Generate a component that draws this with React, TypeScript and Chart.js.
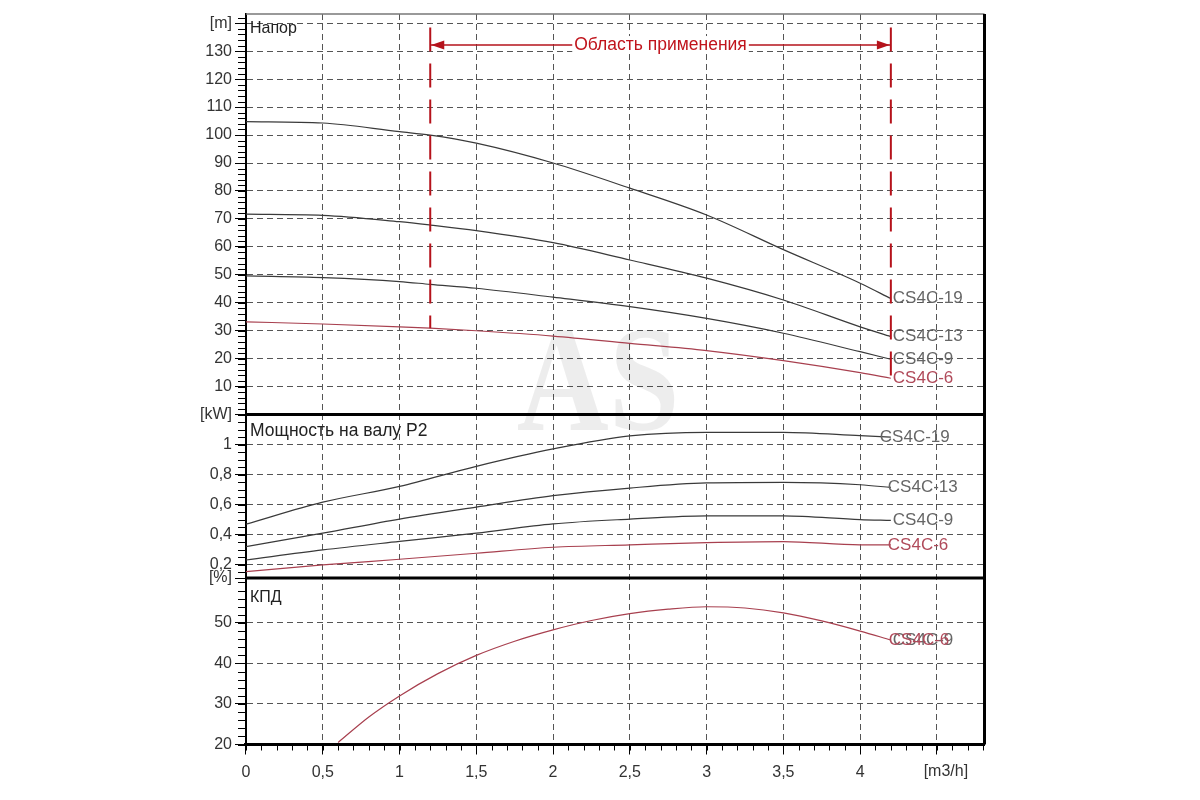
import React, { useEffect, useRef } from 'react';
import { Chart, registerables } from 'chart.js';

// Register all Chart.js components we might need
Chart.register(...registerables);

// Head curves, flow in m3/h, head in m
const FLOW_HEAD = [0, 0.5, 1, 1.2, 1.5, 2, 2.5, 3, 3.5, 4, 4.2];
const HEAD_CS4C_19 = [104.8, 104.3, 101.2, 100, 97.1, 90, 81, 71.4, 59, 47, 41.5];
const HEAD_CS4C_13 = [71.7, 71.3, 69, 67.8, 65.8, 61.5, 55.3, 48.8, 41, 31.4, 27.9];
const HEAD_CS4C_9 = [49.6, 49, 47.6, 46.6, 45.2, 42, 38.6, 34.4, 29.1, 22.5, 19.8];
const HEAD_CS4C_6 = [33.2, 32.4, 31.4, 30.9, 30, 28.1, 25.5, 22.9, 19.3, 15, 13];

// Shaft power P2, kW
const FLOW_POWER = [0, 0.5, 1, 1.5, 2, 2.5, 3, 3.5, 4, 4.2];
const POWER_CS4C_19 = [0.469, 0.616, 0.721, 0.855, 0.971, 1.058, 1.082, 1.082, 1.06, 1.05];
const POWER_CS4C_13 = [0.319, 0.409, 0.503, 0.583, 0.659, 0.71, 0.744, 0.748, 0.732, 0.714];
const POWER_CS4C_9 = [0.23, 0.297, 0.354, 0.409, 0.471, 0.503, 0.525, 0.525, 0.5, 0.495];
const POWER_CS4C_6 = [0.152, 0.197, 0.235, 0.275, 0.315, 0.331, 0.346, 0.353, 0.331, 0.331];

// Efficiency, % (same curve for CS4C-6 and CS4C-9)
const FLOW_EFF = [0.6, 0.8, 1, 1.25, 1.5, 1.75, 2, 2.25, 2.5, 2.75, 3, 3.25, 3.5, 3.75, 4, 4.2];
const EFF_CS4C_6_9 = [20.5, 26.8, 32, 37.5, 42, 45.5, 48.3, 50.6, 52.3, 53.4, 54, 53.7, 52.5, 50.5, 48, 45.8];

// Application range
const RANGE_FLOW = [1.2, 4.2];
const RANGE_TOP = 138.5;
const RANGE_ARROW_LEVEL = 132.2;
const RANGE_LABEL = 'Область применения';

// Axes
const X_MAX = 4.81;
const X_TICKS = [0, 0.5, 1, 1.5, 2, 2.5, 3, 3.5, 4, 4.5];
const HEAD_TICKS = [10, 20, 30, 40, 50, 60, 70, 80, 90, 100, 110, 120, 130, 140];
const POWER_TICKS = [0.2, 0.4, 0.6, 0.8, 1, 1.2];
const EFF_TICKS = [20, 30, 40, 50, 61.1];
const UNITS = { x: '[m3/h]', head: '[m]', power: '[kW]', eff: '[%]' };
const TITLES = { head: 'Напор', power: 'Мощность на валу P2', eff: 'КПД' };

const FONT_FAMILY = '"Liberation Sans", Arial, sans-serif';
const GRID = '#555';
const GRAY_LINE = '#3a3a3a';
const RED_LINE = '#a8404f';
const GRAY_LABEL = '#666';
const RED_LABEL = '#b04a5a';
const RANGE_RED = '#b5121b';
const MINOR_STEPS: Record<string, number> = { x: 0.1, yHead: 2, yPower: 0.05, yEff: 2 };

const pts = (xs: number[], ys: number[]) => xs.map((x, i) => ({ x, y: ys[i] }));
const fmt = (v: number) => String(+v.toFixed(2)).replace('.', ',');

const curve = (
  label: string,
  data: { x: number; y: number }[],
  yAxisID: string,
  red: boolean,
  labelDx: number,
  hideLine = false,
) => ({
  label,
  data,
  yAxisID,
  borderColor: hideLine ? 'rgba(0,0,0,0)' : red ? RED_LINE : GRAY_LINE,
  borderWidth: 1.2,
  pointRadius: 0,
  cubicInterpolationMode: 'monotone',
  fill: false,
  endLabel: label,
  labelColor: red ? RED_LABEL : GRAY_LABEL,
  labelDx,
});

const rangeLine = (data: { x: number; y: number }[], dash: number[], width: number) => ({
  data,
  yAxisID: 'yHead',
  borderColor: RANGE_RED,
  borderWidth: width,
  borderDash: dash,
  pointRadius: 0,
  fill: false,
});

const yScale = (min: number, max: number, ticks: number[], unit: string, weight: number, stackWeight: number) => ({
  type: 'linear',
  position: 'left',
  stack: 'pump',
  weight,
  stackWeight,
  min,
  max,
  afterBuildTicks: (s: any) => {
    s.ticks = ticks.map(value => ({ value }));
  },
  afterFit: (s: any) => {
    s.width = 50;
  },
  ticks: {
    autoSkip: false,
    padding: 3,
    color: '#333',
    font: { family: FONT_FAMILY, size: 16 },
    callback: (v: number, i: number) => (i === ticks.length - 1 ? unit : fmt(v)),
  },
  grid: { color: GRID, lineWidth: 1, tickLength: 11, tickColor: '#000', tickWidth: 1, tickBorderDash: [] },
  border: { color: '#000', width: 2, dash: [6, 4] },
});

const decorPlugin = {
  id: 'pumpDecor',
  beforeDatasetsDraw(chart: any) {
    const { ctx, chartArea: a } = chart;
    ctx.save();
    ctx.fillStyle = 'rgba(0,0,0,0.07)';
    ctx.font = 'bold 150px "Liberation Serif", "DejaVu Serif", serif';
    ctx.textAlign = 'center';
    ctx.textBaseline = 'middle';
    ctx.translate((a.left + a.right) / 2 - 17, (a.top + a.bottom) / 2 + 12);
    ctx.scale(0.85, 1);
    ctx.fillText('AS', 0, 0);
    ctx.restore();
  },
  afterDatasetsDraw(chart: any) {
    const { ctx } = chart;
    const xs = chart.scales.x;
    const ys = chart.scales.yHead;

    // curve end labels
    ctx.save();
    ctx.font = `17px ${FONT_FAMILY}`;
    ctx.textBaseline = 'middle';
    ctx.textAlign = 'left';
    chart.data.datasets.forEach((ds: any, i: number) => {
      if (!ds.endLabel) return;
      const meta = chart.getDatasetMeta(i);
      const last = meta.data[meta.data.length - 1];
      ctx.fillStyle = ds.labelColor;
      ctx.fillText(ds.endLabel, last.x + ds.labelDx, last.y);
    });

    // application range arrows and label
    const xl = xs.getPixelForValue(RANGE_FLOW[0]);
    const xr = xs.getPixelForValue(RANGE_FLOW[1]);
    const ya = ys.getPixelForValue(RANGE_ARROW_LEVEL);
    ctx.fillStyle = RANGE_RED;
    ctx.beginPath();
    ctx.moveTo(xl + 1, ya);
    ctx.lineTo(xl + 14, ya - 4.5);
    ctx.lineTo(xl + 14, ya + 4.5);
    ctx.closePath();
    ctx.fill();
    ctx.beginPath();
    ctx.moveTo(xr - 1, ya);
    ctx.lineTo(xr - 14, ya - 4.5);
    ctx.lineTo(xr - 14, ya + 4.5);
    ctx.closePath();
    ctx.fill();
    ctx.font = `17.5px ${FONT_FAMILY}`;
    const cx = (xl + xr) / 2;
    const w = ctx.measureText(RANGE_LABEL).width;
    ctx.fillStyle = '#fff';
    ctx.fillRect(cx - w / 2 - 2, ya - 9, w + 4, 18);
    ctx.fillStyle = '#c0141c';
    ctx.textAlign = 'center';
    ctx.fillText(RANGE_LABEL, cx, ya);
    ctx.restore();
  },
  afterDraw(chart: any) {
    const { ctx, chartArea: a } = chart;
    const xs = chart.scales.x;
    ctx.save();

    // minor ticks
    ctx.strokeStyle = '#000';
    ctx.lineWidth = 1;
    ctx.beginPath();
    ['yHead', 'yPower', 'yEff'].forEach(id => {
      const s = chart.scales[id];
      const step = MINOR_STEPS[id];
      const n0 = Math.ceil(s.min / step - 1e-6);
      const n1 = Math.floor(s.max / step + 1e-6);
      for (let n = n0; n <= n1; n++) {
        const y = Math.round(s.getPixelForValue(n * step)) + 0.5;
        ctx.moveTo(a.left - 8, y);
        ctx.lineTo(a.left, y);
      }
    });
    const xn = Math.floor(xs.max / MINOR_STEPS.x + 1e-6);
    for (let n = 0; n <= xn; n++) {
      const x = Math.round(xs.getPixelForValue(n * MINOR_STEPS.x)) + 0.5;
      ctx.moveTo(x, a.bottom);
      ctx.lineTo(x, a.bottom + 6);
    }
    ctx.stroke();

    // frame and panel separators
    ctx.strokeStyle = '#777';
    ctx.lineWidth = 1.5;
    ctx.beginPath();
    ctx.moveTo(a.left, a.top);
    ctx.lineTo(a.right, a.top);
    ctx.stroke();
    ctx.strokeStyle = '#000';
    ctx.lineWidth = 3;
    ctx.beginPath();
    ctx.moveTo(a.right, a.top);
    ctx.lineTo(a.right, a.bottom);
    [chart.scales.yHead.bottom, chart.scales.yPower.bottom].forEach((y: number) => {
      ctx.moveTo(a.left, y);
      ctx.lineTo(a.right, y);
    });
    ctx.stroke();

    // x unit, sitting just right of the last major tick
    ctx.fillStyle = '#333';
    ctx.font = `16px ${FONT_FAMILY}`;
    ctx.textAlign = 'center';
    ctx.textBaseline = 'top';
    ctx.fillText(UNITS.x, xs.getPixelForValue(X_TICKS[X_TICKS.length - 1]) + 9, a.bottom + 19);

    // panel titles
    ctx.fillStyle = '#222';
    ctx.textAlign = 'left';
    ctx.textBaseline = 'middle';
    ctx.fillText(TITLES.head, a.left + 4, chart.scales.yHead.top + 15);
    ctx.fillText(TITLES.eff, a.left + 4, chart.scales.yEff.top + 20);
    ctx.font = `17.5px ${FONT_FAMILY}`;
    ctx.fillText(TITLES.power, a.left + 4, chart.scales.yPower.top + 17);
    ctx.restore();
  },
};

export default function App() {
  const chartRef = useRef<HTMLCanvasElement>(null);

  useEffect(() => {
    if (!chartRef.current) return;

    const rangeBottomLeft = HEAD_CS4C_6[FLOW_HEAD.indexOf(RANGE_FLOW[0])];
    const rangeBottomRight = HEAD_CS4C_6[FLOW_HEAD.indexOf(RANGE_FLOW[1])];

    const datasets: any[] = [
      rangeLine([{ x: RANGE_FLOW[0], y: RANGE_TOP }, { x: RANGE_FLOW[0], y: rangeBottomLeft }], [24, 12], 2),
      rangeLine([{ x: RANGE_FLOW[1], y: RANGE_TOP }, { x: RANGE_FLOW[1], y: rangeBottomRight }], [24, 12], 2),
      rangeLine([{ x: RANGE_FLOW[0], y: RANGE_ARROW_LEVEL }, { x: RANGE_FLOW[1], y: RANGE_ARROW_LEVEL }], [], 1.5),
      curve('CS4C-19', pts(FLOW_HEAD, HEAD_CS4C_19), 'yHead', false, 2),
      curve('CS4C-13', pts(FLOW_HEAD, HEAD_CS4C_13), 'yHead', false, 2),
      curve('CS4C-9', pts(FLOW_HEAD, HEAD_CS4C_9), 'yHead', false, 2),
      curve('CS4C-6', pts(FLOW_HEAD, HEAD_CS4C_6), 'yHead', true, 2),
      curve('CS4C-19', pts(FLOW_POWER, POWER_CS4C_19), 'yPower', false, -11),
      curve('CS4C-13', pts(FLOW_POWER, POWER_CS4C_13), 'yPower', false, -3),
      curve('CS4C-9', pts(FLOW_POWER, POWER_CS4C_9), 'yPower', false, 2),
      curve('CS4C-6', pts(FLOW_POWER, POWER_CS4C_6), 'yPower', true, -3),
      curve('CS4C-9', pts(FLOW_EFF, EFF_CS4C_6_9), 'yEff', false, 2, true),
      curve('CS4C-6', pts(FLOW_EFF, EFF_CS4C_6_9), 'yEff', true, -2),
    ];

    const chart = new Chart(chartRef.current, {
      type: 'line',
      data: { datasets },
      options: {
        responsive: false,
        animation: false,
        layout: { padding: { left: 196, right: 215.5, top: 14, bottom: 15.5 } },
        plugins: { legend: { display: false }, tooltip: { enabled: false } },
        scales: {
          x: {
            type: 'linear',
            position: 'bottom',
            min: 0,
            max: X_MAX,
            afterBuildTicks: (s: any) => {
              s.ticks = X_TICKS.map(value => ({ value }));
            },
            afterFit: (s: any) => {
              s.height = 40;
            },
            ticks: {
              autoSkip: false,
              maxRotation: 0,
              padding: 8,
              color: '#333',
              font: { family: FONT_FAMILY, size: 16 },
              // the unit text is drawn by the plugin, a little right of the last tick
              callback: (v: number, i: number) => (i === X_TICKS.length - 1 ? '' : fmt(v)),
            },
            grid: { color: GRID, lineWidth: 1, tickLength: 10, tickColor: '#000', tickWidth: 1, tickBorderDash: [] },
            border: { color: '#000', width: 3, dash: [6, 4] },
          },
          yEff: yScale(20, 61.1, EFF_TICKS, UNITS.eff, 1, 166.5),
          yPower: yScale(0.11, 1.2, POWER_TICKS, UNITS.power, 2, 163.4),
          yHead: yScale(0, 143.3, HEAD_TICKS, UNITS.head, 3, 400.6),
        } as any,
      },
      plugins: [decorPlugin as any],
    });

    return () => {
      chart.destroy();
    };
  }, []);

  return (
    <div style={{ position: 'absolute', left: 0, top: 0, width: 1200, height: 800, background: '#fff' }}>
      <canvas ref={chartRef} width={1200} height={800} style={{ display: 'block', width: 1200, height: 800 }} />
    </div>
  );
}
